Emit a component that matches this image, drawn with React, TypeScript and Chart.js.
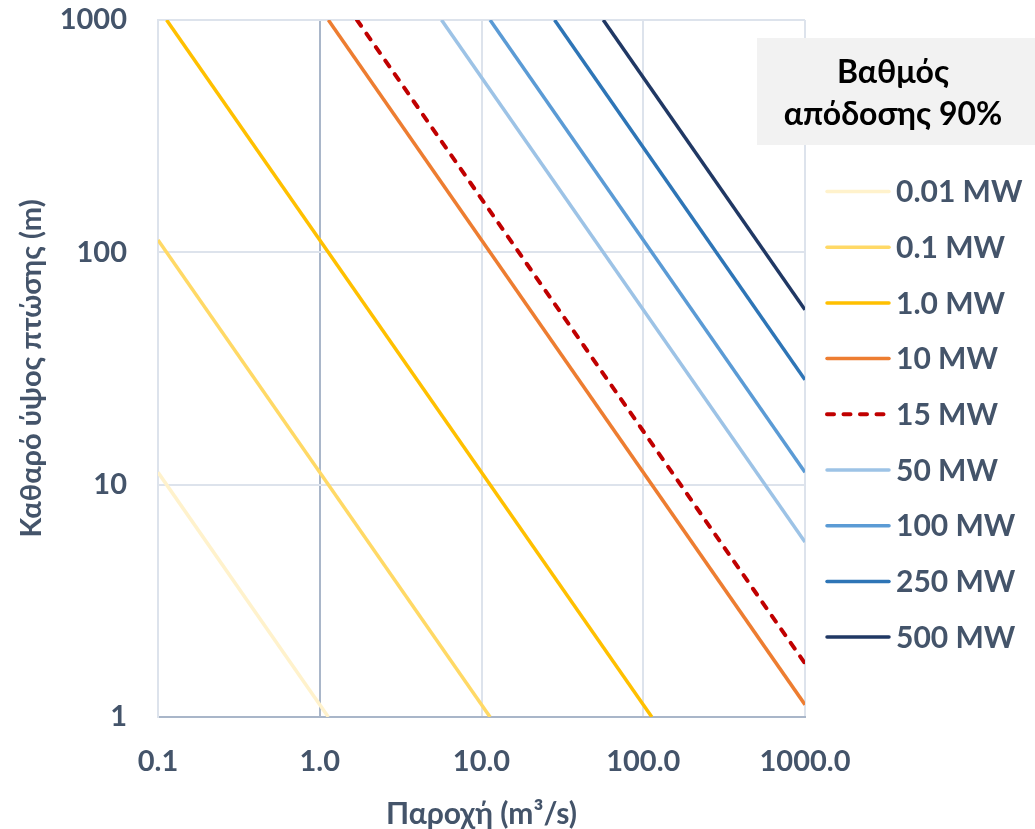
import React, { useEffect, useRef } from "react";
import { Chart, registerables } from "chart.js";

Chart.register(...registerables);

// ---- Data ----
const SERIES_LABELS = ["0.01 MW", "0.1 MW", "1.0 MW", "10 MW", "15 MW", "50 MW", "100 MW", "250 MW", "500 MW"];

// Flow (m3/s) and head (m) at the points where each line enters/leaves the plot
const FLOW_0_01MW = [0.1, 1.13];
const HEAD_0_01MW = [11.3, 1.0];
const FLOW_0_1MW = [0.1, 11.3];
const HEAD_0_1MW = [113, 1.0];
const FLOW_1MW = [0.113, 113];
const HEAD_1MW = [1000, 1.0];
const FLOW_10MW = [1.13, 1000];
const HEAD_10MW = [1000, 1.13];
const FLOW_15MW = [1.7, 1000];
const HEAD_15MW = [1000, 1.7];
const FLOW_50MW = [5.66, 1000];
const HEAD_50MW = [1000, 5.66];
const FLOW_100MW = [11.3, 1000];
const HEAD_100MW = [1000, 11.3];
const FLOW_250MW = [28.3, 1000];
const HEAD_250MW = [1000, 28.3];
const FLOW_500MW = [56.6, 1000];
const HEAD_500MW = [1000, 56.6];

const SERIES_FLOWS = [FLOW_0_01MW, FLOW_0_1MW, FLOW_1MW, FLOW_10MW, FLOW_15MW, FLOW_50MW, FLOW_100MW, FLOW_250MW, FLOW_500MW];
const SERIES_HEADS = [HEAD_0_01MW, HEAD_0_1MW, HEAD_1MW, HEAD_10MW, HEAD_15MW, HEAD_50MW, HEAD_100MW, HEAD_250MW, HEAD_500MW];

const X_TICKS = [0.1, 1, 10, 100, 1000];
const X_TICK_LABELS = ["0.1", "1.0", "10.0", "100.0", "1000.0"];
const Y_TICKS = [1, 10, 100, 1000];
const Y_TICK_LABELS = ["1", "10", "100", "1000"];

const X_TITLE = "Παροχή (m³/s)";
const Y_TITLE = "Καθαρό ύψος πτώσης (m)";
const LEGEND_TITLE = ["Βαθμός", "απόδοσης 90%"];

// ---- Styles ----
const COLORS = ["#fff2cc", "#ffd966", "#ffc000", "#ed7d31", "#c00000", "#9dc3e6", "#5b9bd5", "#2e75b6", "#203864"];
const DASHED = [false, false, false, false, true, false, false, false, false];
const DASH_PATTERN = [7, 9.5];
const TEXT_COLOR = "#44546a";
const FONT = "Lato, 'Open Sans', sans-serif";
const GRID_LIGHT = "#dde3ec";
const GRID_DARK = "#a9b6c9";

const legendPlugin = {
  id: "customLegend",
  afterDraw(chart: any) {
    const ctx = chart.ctx;
    const ca = chart.chartArea;
    const base = ca.right;
    ctx.save();
    // title box
    ctx.fillStyle = "#f2f2f2";
    ctx.fillRect(base - 48, 38, 280, 107);
    ctx.fillStyle = "#000000";
    ctx.font = `bold 32px ${FONT}`;
    ctx.textAlign = "center";
    ctx.textBaseline = "middle";
    ctx.fillText(LEGEND_TITLE[0], base + 88, 73);
    ctx.fillText(LEGEND_TITLE[1], base + 88, 115);

    // items
    ctx.font = `bold 30px ${FONT}`;
    ctx.textAlign = "left";
    chart.data.datasets.forEach((ds: any, i: number) => {
      const y = 191.5 + i * 55.7;
      const dashed = ds.borderDash && ds.borderDash.length;
      ctx.strokeStyle = ds.borderColor;
      ctx.lineWidth = dashed ? 4 : 3.5;
      ctx.lineCap = "round";
      ctx.setLineDash(dashed ? DASH_PATTERN : []);
      ctx.beginPath();
      ctx.moveTo(base + 22, y);
      ctx.lineTo(base + 84, y);
      ctx.stroke();
      ctx.setLineDash([]);
      ctx.fillStyle = TEXT_COLOR;
      ctx.fillText(ds.label, base + 91, y + 1);
    });
    ctx.restore();
  },
};

export default function App() {
  const canvasRef = useRef<HTMLCanvasElement | null>(null);

  useEffect(() => {
    if (!canvasRef.current) return;
    const datasets = SERIES_LABELS.map((label, i) => ({
      label,
      data: SERIES_FLOWS[i].map((q, j) => ({ x: q, y: SERIES_HEADS[i][j] })),
      borderColor: COLORS[i],
      backgroundColor: COLORS[i],
      borderWidth: DASHED[i] ? 4 : 3.5,
      borderDash: DASHED[i] ? DASH_PATTERN : [],
      borderCapStyle: DASHED[i] ? "round" : "butt",
      showLine: true,
      pointRadius: 0,
      pointHoverRadius: 0,
      fill: false,
      tension: 0,
    }));

    const chart = new Chart(canvasRef.current, {
      type: "scatter",
      data: { datasets },
      plugins: [legendPlugin],
      options: {
        animation: false,
        responsive: false,
        layout: { padding: { left: 0, top: 20, right: 230, bottom: 0 } },
        plugins: {
          legend: { display: false },
          tooltip: { enabled: false },
        },
        scales: {
          x: {
            type: "logarithmic",
            min: 0.1,
            max: 1000,
            afterBuildTicks: (scale: any) => {
              scale.ticks = X_TICKS.map((v) => ({ value: v }));
            },
            afterFit: (scale: any) => {
              scale.height = 112;
            },
            ticks: {
              autoSkip: false,
              maxRotation: 0,
              padding: 27,
              color: TEXT_COLOR,
              font: { family: FONT, size: 29, weight: "bold" },
              callback: (_v: any, idx: number) => X_TICK_LABELS[idx],
            },
            grid: {
              drawTicks: false,
              lineWidth: 2,
              color: (c: any) => (c.tick && c.tick.value === 1 ? GRID_DARK : GRID_LIGHT),
            },
            border: { display: true, color: GRID_DARK, width: 2 },
            title: {
              display: true,
              text: X_TITLE,
              color: TEXT_COLOR,
              font: { family: FONT, size: 30, weight: "bold", lineHeight: 1 },
              padding: { top: 0, bottom: 0 },
            },
          },
          y: {
            type: "logarithmic",
            min: 1,
            max: 1000,
            afterBuildTicks: (scale: any) => {
              scale.ticks = Y_TICKS.map((v) => ({ value: v }));
            },
            afterFit: (scale: any) => {
              scale.width = 158;
              scale.paddingTop = 0;
              scale.paddingBottom = 0;
            },
            ticks: {
              autoSkip: false,
              padding: 31,
              color: TEXT_COLOR,
              font: { family: FONT, size: 29, weight: "bold" },
              callback: (_v: any, idx: number) => Y_TICK_LABELS[idx],
            },
            grid: {
              drawTicks: false,
              lineWidth: 2,
              color: (c: any) => (c.tick && c.tick.value === 1 ? GRID_DARK : GRID_LIGHT),
            },
            border: { display: true, color: GRID_LIGHT, width: 2 },
            title: {
              display: true,
              text: Y_TITLE,
              color: TEXT_COLOR,
              font: { family: FONT, size: 29, weight: "bold", lineHeight: 1 },
              padding: { top: 17, bottom: 0 },
            },
          },
        },
      } as any,
    });

    return () => chart.destroy();
  }, []);

  return (
    <div style={{ position: "fixed", left: 0, top: 0, width: 1035, height: 829, background: "#ffffff" }}>
      <canvas ref={canvasRef} width={1035} height={829} style={{ display: "block" }} />
    </div>
  );
}
